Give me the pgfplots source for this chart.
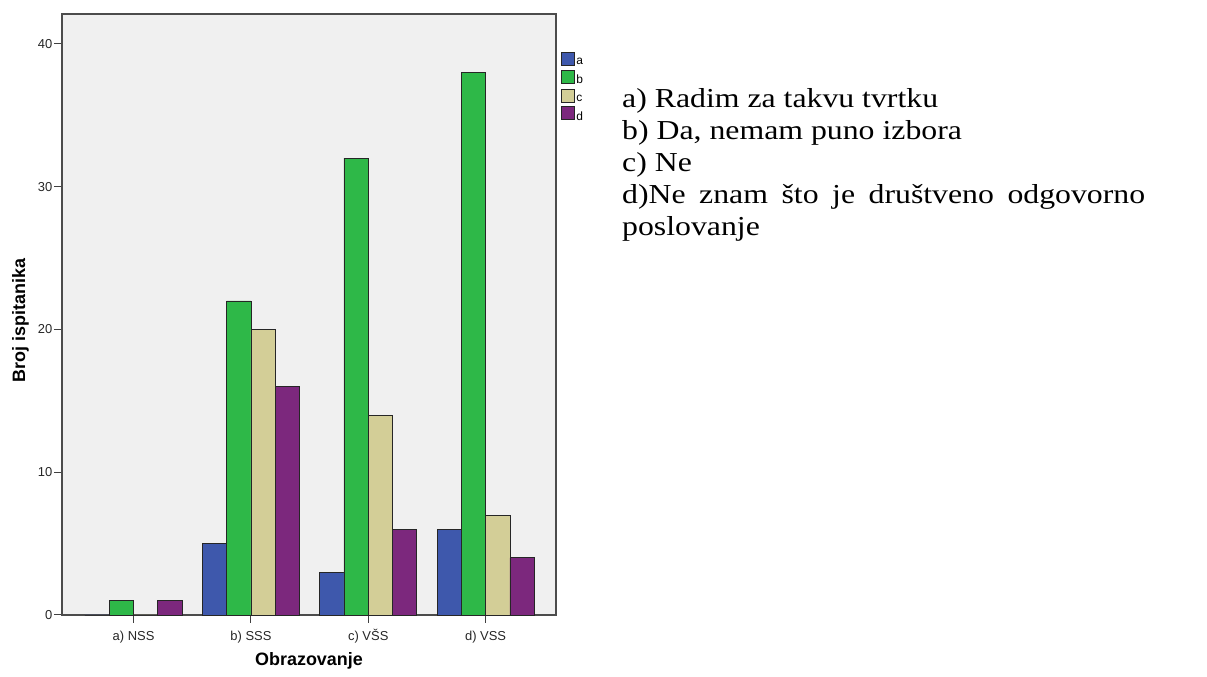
\documentclass[border=0pt]{standalone}
\usepackage{pgfplots}
\pgfplotsset{compat=1.18}
\usepackage{pgfplotstable}
\usepackage{fontspec}
\setmainfont{Liberation Sans}
\newfontfamily\docserif[FakeStretch=1.16]{Liberation Serif}
\definecolor{cA}{HTML}{3E58AC}
\definecolor{cB}{HTML}{2EB848}
\definecolor{cC}{HTML}{D3CE97}
\definecolor{cD}{HTML}{7C287D}
\definecolor{bg}{HTML}{F0F0F0}
\pgfplotstableread{
x a b c d
0 0 1 0 1
1 5 22 20 16
2 3 32 14 6
3 6 38 7 4
}\datatable
\pgfplotsset{sq legend/.style={legend image code/.code={\draw[##1,draw=black!85,line width=0.8bp] (0bp,-3bp) rectangle (13bp,10bp);}}}
\begin{document}
\begin{tikzpicture}[x=1bp,y=1bp]
\useasboundingbox (0,0) rectangle (1207,677);
\begin{axis}[
  at={(62bp,62bp)}, anchor=south west,
  width=494bp, height=601bp, scale only axis,
  xmin=-0.61, xmax=3.6, ymin=0, ymax=42.1,
  ybar=0pt, bar width=24.3bp,
  xtick={0,1,2,3}, xticklabels={a) NSS, b) SSS, c) VŠS, d) VSS},
  ytick={0,10,20,30,40},
  xtick pos=bottom, ytick pos=left,
  tick align=outside, major tick length=8bp,
  tick style={draw=black!75, line width=1bp},
  axis background/.style={fill=bg},
  axis line style={draw=black!70, line width=1.3bp},
  /pgf/number format/assume math mode=true,
  ticklabel style={font=\fontsize{13}{15}\selectfont, text=black!85},
  xticklabel style={text height=10bp, text depth=3bp, yshift=-4bp},
  yticklabel style={inner sep=1.5bp},
  xlabel={Obrazovanje},
  ylabel={Broj ispitanika},
  label style={font=\bfseries\fontsize{18}{21}\selectfont},
  xlabel style={at={(axis description cs:0.5,0)}, anchor=base, yshift=-51bp},
  ylabel style={at={(axis description cs:-0.084,0.49)}, anchor=center, rotate=0},
  legend style={at={(1.01,0.937)}, anchor=north west, draw=none, fill=none, inner sep=0pt,
    font=\fontsize{12}{14}\selectfont, row sep=1.9bp,
    nodes={inner sep=1.5bp}},
  legend cell align=left,
  clip=false,
]
\addplot[fill=cA, draw=black!85, line width=0.8bp, sq legend] table[x=x,y=a] {\datatable};
\addplot[fill=cB, draw=black!85, line width=0.8bp, sq legend] table[x=x,y=b] {\datatable};
\addplot[fill=cC, draw=black!85, line width=0.8bp, sq legend] table[x=x,y=c] {\datatable};
\addplot[fill=cD, draw=black!85, line width=0.8bp, sq legend] table[x=x,y=d] {\datatable};
\legend{a,b,c,d}
\end{axis}
\begin{scope}[every node/.style={anchor=base west, inner sep=0pt, font=\docserif\fontsize{27.5}{32}\selectfont}]
\node at (622,569) {a) Radim za takvu tvrtku};
\node at (622,537.5) {b) Da, nemam puno izbora};
\node at (622,505.5) {c) Ne};
\node at (622,473) {\makebox[523bp][s]{d)Ne znam što je društveno odgovorno}};
\node at (622,441) {poslovanje};
\end{scope}
\end{tikzpicture}
\end{document}
